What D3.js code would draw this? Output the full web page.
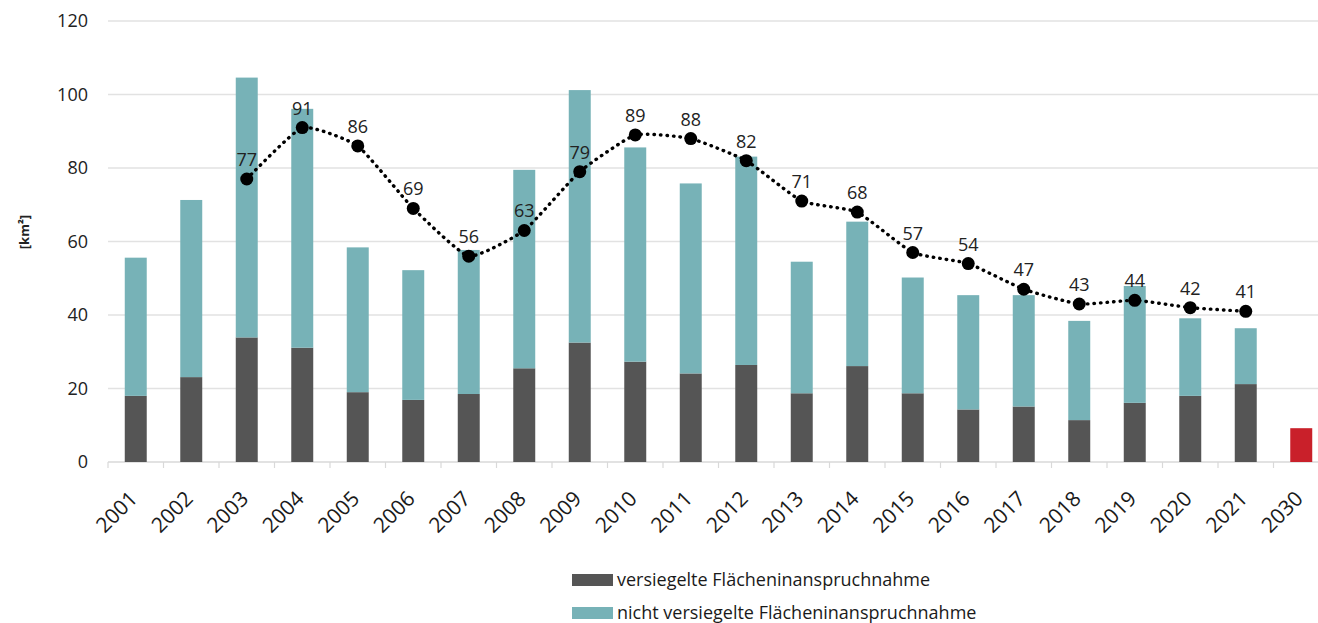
<!DOCTYPE html>
<html>
<head>
<meta charset="utf-8">
<script src="https://cdn.jsdelivr.net/npm/d3@7"></script>
<style>
  body { margin: 0; background: #fff; }
  svg { font-family: "Open Sans", sans-serif; }
</style>
</head>
<body>
<svg id="main" width="1318" height="623"></svg>
<script>
// data
var years = ["2001","2002","2003","2004","2005","2006","2007","2008","2009","2010","2011",
             "2012","2013","2014","2015","2016","2017","2018","2019","2020","2021","2030"];
var sealed   = [18.0,23.1,33.9,31.1,19.0,16.9,18.5,25.5,32.5,27.3,24.1,26.4,18.7,26.1,18.7,14.3,15.1,11.4,16.1,18.0,21.2,0];
var unsealed = [37.6,48.2,70.7,65.0,39.4,35.3,39.2,54.0,68.7,58.3,51.7,56.7,35.8,39.3,31.5,31.1,30.3,27.0,31.8,21.1,15.2,0];
var target   = [null,null,null,null,null,null,null,null,null,null,null,null,null,null,null,null,null,null,null,null,null,9.2];
var avg      = [null,null,77,91,86,69,56,63,79,89,88,82,71,68,57,54,47,43,44,42,41,null];
var yTicks   = [0,20,40,60,80,100,120];
var legendLabels = ["versiegelte Flächeninanspruchnahme", "nicht versiegelte Flächeninanspruchnahme"];

var colSealed = "#555555", colUnsealed = "#77b2b7", colTarget = "#c9202a";

var svg = d3.select("svg#main");

var x = d3.scaleBand().domain(years).range([108, 1329]).paddingInner(0.604).paddingOuter(0.302);
var y = d3.scaleLinear().domain([0, 120]).range([462, 21]);

// gridlines
svg.append("g").selectAll("line")
    .data(yTicks.slice(1))
    .enter().append("line")
    .attr("x1", 108).attr("x2", 1329)
    .attr("y1", function(d) { return y(d); }).attr("y2", function(d) { return y(d); })
    .style("stroke", "#e2e2e2").style("stroke-width", 1.5);

// y axis labels
var yAxis = svg.append("g").attr("transform", "translate(96,0)")
    .call(d3.axisLeft(y).tickValues(yTicks).tickSize(0).tickPadding(8));
yAxis.select(".domain").remove();
yAxis.selectAll("text").style("font-size", "18px").style("fill", "#222").style("font-family", "Open Sans");

svg.append("text")
    .attr("transform", "translate(29,232) rotate(-90)")
    .attr("text-anchor", "middle")
    .style("font-size", "13px").style("font-weight", "bold").style("fill", "#222")
    .text("[km²]");

// x axis
var xAxis = svg.append("g").attr("transform", "translate(0,462)")
    .call(d3.axisBottom(x).tickSize(0).tickPadding(0));
xAxis.select(".domain").attr("d", "M108,0H1329").style("stroke", "#d9d9d9").style("stroke-width", 1.5);
xAxis.selectAll("text")
    .attr("text-anchor", "end")
    .attr("transform", "translate(3,38) rotate(-45)")
    .attr("dy", "0")
    .style("font-size", "21px").style("fill", "#1a1a1a").style("font-family", "Open Sans");
// ticks between categories
xAxis.append("g").selectAll("line")
    .data(years)
    .enter().append("line")
    .attr("x1", function(d) { return x(d) - x.step() * x.paddingInner() / 2; })
    .attr("x2", function(d) { return x(d) - x.step() * x.paddingInner() / 2; })
    .attr("y1", 0).attr("y2", 6)
    .style("stroke", "#d9d9d9").style("stroke-width", 1.2);

// stacked bars
var table = years.map(function(yr, i) { return {year: yr, sealed: sealed[i], unsealed: unsealed[i]}; });
var stack = d3.stack().keys(["sealed", "unsealed"])(table);
var colors = [colSealed, colUnsealed];

svg.append("g").selectAll("g")
    .data(stack)
    .enter().append("g")
    .style("fill", function(d, i) { return colors[i]; })
    .selectAll("rect")
    .data(function(d) { return d; })
    .enter().append("rect")
    .attr("x", function(d) { return x(d.data.year); })
    .attr("width", x.bandwidth())
    .attr("y", function(d) { return y(d[1]); })
    .attr("height", function(d) { return y(d[0]) - y(d[1]); });

// target bar
svg.append("g").selectAll("rect")
    .data(years.filter(function(d, i) { return target[i] != null; }))
    .enter().append("rect")
    .attr("x", function(d) { return x(d); })
    .attr("width", x.bandwidth())
    .attr("y", function(d) { return y(target[years.indexOf(d)]); })
    .attr("height", function(d) { return 462 - y(target[years.indexOf(d)]); })
    .style("fill", colTarget);

// dotted average line
var pts = years.map(function(yr, i) { return {year: yr, v: avg[i]}; }).filter(function(d) { return d.v != null; });
var cx = function(d) { return x(d.year) + x.bandwidth() / 2; };

svg.append("path")
    .datum(pts)
    .attr("d", d3.line().x(cx).y(function(d) { return y(d.v); }).curve(d3.curveCardinal.tension(0.55)))
    .style("fill", "none").style("stroke", "#000").style("stroke-width", 3.4)
    .style("stroke-linecap", "round").style("stroke-dasharray", "0.5 6");

svg.append("g").selectAll("circle")
    .data(pts)
    .enter().append("circle")
    .attr("cx", cx).attr("cy", function(d) { return y(d.v); })
    .attr("r", 6.5).style("fill", "#000");

svg.append("g").selectAll("text")
    .data(pts)
    .enter().append("text")
    .attr("x", cx).attr("y", function(d) { return y(d.v) - 13; })
    .attr("text-anchor", "middle")
    .style("font-size", "18px").style("fill", "#222")
    .text(function(d) { return d.v; });

// legend
var legend = svg.append("g").selectAll("g")
    .data(legendLabels)
    .enter().append("g")
    .attr("transform", function(d, i) { return "translate(572," + (574 + i * 33) + ")"; });
legend.append("rect").attr("width", 41).attr("height", 12)
    .style("fill", function(d, i) { return colors[i]; });
legend.append("text").attr("x", 45).attr("y", 6).attr("dy", "0.35em")
    .style("font-size", "18px").style("fill", "#1a1a1a")
    .text(function(d) { return d; });
</script>
</body>
</html>
